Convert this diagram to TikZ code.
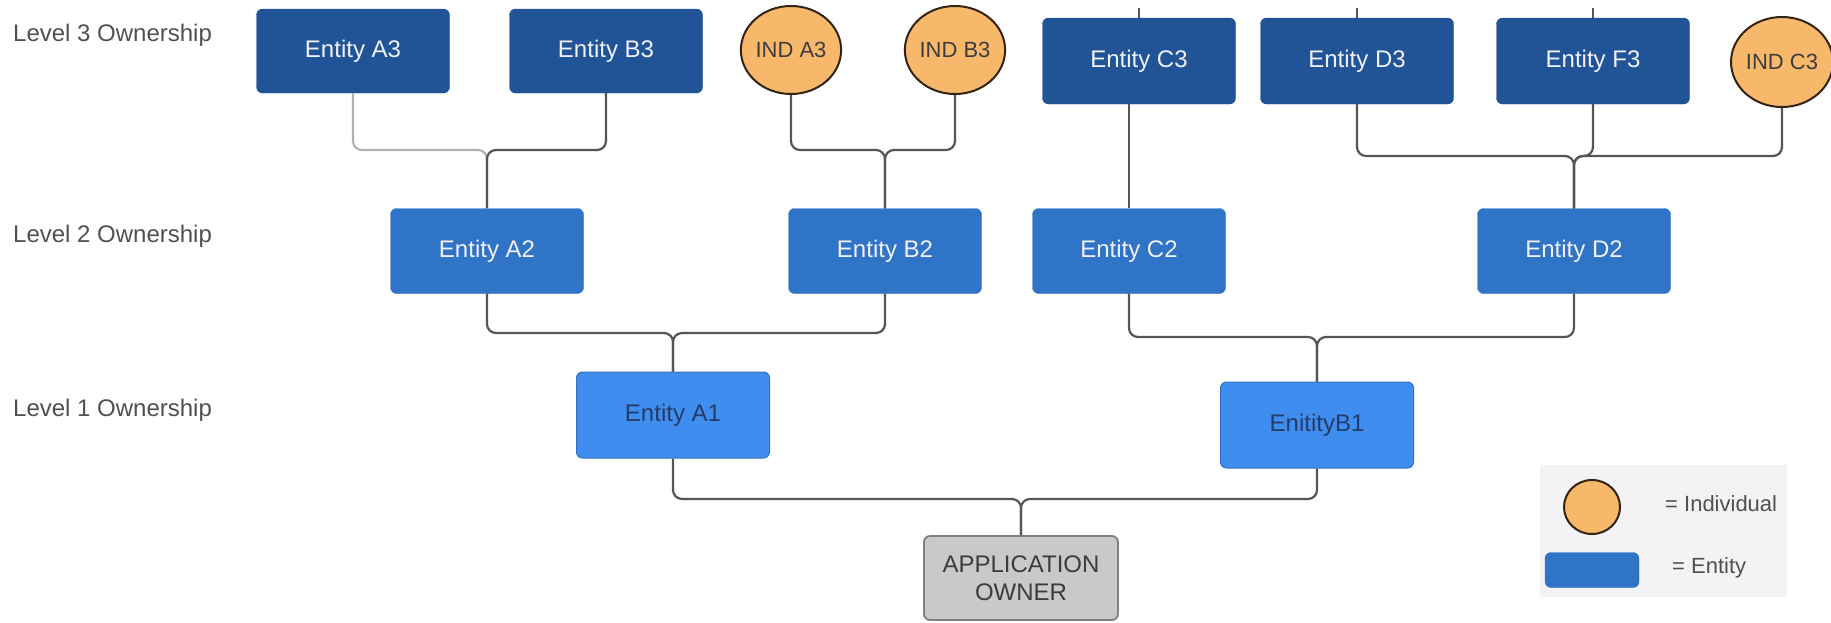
\documentclass[tikz,border=0pt]{standalone}
\usepackage{fontspec}
\setmainfont{Liberation Sans}
\usepackage{tikz}
\usetikzlibrary{shapes}
\usetikzlibrary{shapes.geometric}
\definecolor{lvlthree}{RGB}{33,84,150}
\definecolor{lvltwo}{RGB}{47,116,198}
\definecolor{lvlone}{RGB}{64,141,240}
\definecolor{indfill}{RGB}{248,184,108}
\definecolor{linkgray}{RGB}{85,85,85}
\tikzset{
  ownnode/.style = {align=center, inner sep=0pt, text centered,
    font=\fontsize{24}{28}\selectfont},
  entity_three/.style = {ownnode, rectangle, rounded corners=6pt, fill=lvlthree,
    draw=lvlthree, text=white!94!blue, minimum width=193pt, minimum height=84pt},% niveau 3
  entity_two/.style = {ownnode, rectangle, rounded corners=6pt, fill=lvltwo,
    draw=lvltwo, text=white!94!blue, minimum width=193pt, minimum height=85pt},% niveau 2
  entity_one/.style = {ownnode, rectangle, rounded corners=6pt, fill=lvlone,
    draw=lvlone!80!black, line width=1pt, text={rgb,255:red,35;green,60;blue,105},
    minimum width=193pt, minimum height=86pt},% niveau 1
  ind_node/.style = {ownnode, ellipse, fill=indfill, draw={rgb,255:red,50;green,35;blue,20},
    line width=2pt, text={rgb,255:red,60;green,60;blue,60}, font=\fontsize{22}{26}\selectfont,
    minimum width=98pt, minimum height=88pt},% individu
  owner_node/.style = {ownnode, rectangle, rounded corners=6pt, fill={rgb,255:red,201;green,201;blue,201},
    draw={rgb,255:red,128;green,128;blue,128}, line width=1.8pt,
    text={rgb,255:red,60;green,60;blue,60}, minimum width=194pt, minimum height=84pt},% proprietaire
  level_label/.style = {ownnode, anchor=west, text={rgb,255:red,80;green,80;blue,80}},
  link/.style = {draw=linkgray, line width=2.2pt, rounded corners=9pt},
  link_light/.style = {link, draw=linkgray!45}
}
\begin{document}
\begin{tikzpicture}[x=1pt, y=-1pt]
  \useasboundingbox (0,0) rectangle (1831,622);
  % niveaux
  \node [level_label] (lbl3) at (13,35) {Level 3 Ownership};
  \node [level_label] (lbl2) at (13,236) {Level 2 Ownership};
  \node [level_label] (lbl1) at (13,410) {Level 1 Ownership};
  % niveau 3
  \node [entity_three] (a3) at (353,51) {Entity A3};
  \node [entity_three] (b3) at (606,51) {Entity B3};
  \node [ind_node] (inda3) at (791,50) {IND A3};
  \node [ind_node] (indb3) at (955,50) {IND B3};
  \node [entity_three, minimum height=86pt] (c3) at (1139,61) {Entity C3};
  \node [entity_three, minimum height=86pt] (d3) at (1357,61) {Entity D3};
  \node [entity_three, minimum height=86pt] (f3) at (1593,61) {Entity F3};
  \node [ind_node, minimum width=95pt, minimum height=90pt] (indc3) at (1782,62) {IND C3};
  % niveau 2
  \node [entity_two] (a2) at (487,251) {Entity A2};
  \node [entity_two] (b2) at (885,251) {Entity B2};
  \node [entity_two] (c2) at (1129,251) {Entity C2};
  \node [entity_two] (d2) at (1574,251) {Entity D2};
  % niveau 1
  \node [entity_one] (a1) at (673,415) {Entity A1};
  \node [entity_one] (b1) at (1317,425) {EnitityB1};
  \node [owner_node] (owner) at (1021,578) {APPLICATION\\OWNER};
  % jonctions
  \coordinate (top_edge) at (0,8);
  \coordinate (j_ab3) at (0,150);
  \coordinate (j_df3) at (0,156);
  \coordinate (j_ab2) at (0,333);
  \coordinate (j_cd2) at (0,337);
  \coordinate (j_ab1) at (0,499);
  \draw [link] (c3.north) -- (c3.north |- top_edge);
  \draw [link] (d3.north) -- (d3.north |- top_edge);
  \draw [link] (f3.north) -- (f3.north |- top_edge);
  \draw [link_light] (a3.south) -- (a3.south |- j_ab3) -| (a2.north);
  \draw [link] (b3.south) -- (b3.south |- j_ab3) -| (a2.north);
  \draw [link] (inda3.south) -- (inda3.south |- j_ab3) -| (b2.north);
  \draw [link] (indb3.south) -- (indb3.south |- j_ab3) -| (b2.north);
  \draw [link] (c2.north) -- (c2.north |- c3.south);
  \draw [link] (d3.south) -- (d3.south |- j_df3) -| (d2.north);
  \draw [link] (f3.south) -- (f3.south |- j_df3) -| (d2.north);
  \draw [link] (indc3.south) -- (indc3.south |- j_df3) -| (d2.north);
  \draw [link] (a2.south) -- (a2.south |- j_ab2) -| (a1.north);
  \draw [link] (b2.south) -- (b2.south |- j_ab2) -| (a1.north);
  \draw [link] (c2.south) -- (c2.south |- j_cd2) -| (b1.north);
  \draw [link] (d2.south) -- (d2.south |- j_cd2) -| (b1.north);
  \draw [link] (a1.south) -- (a1.south |- j_ab1) -| (owner.north);
  \draw [link] (b1.south) -- (b1.south |- j_ab1) -| (owner.north);
  % legende
  \node [fill={rgb,255:red,243;green,243;blue,245}, minimum width=247pt, minimum height=132pt,
    inner sep=0pt] (legend) at (1663,531) {};
  \node [ind_node, minimum width=56pt, minimum height=54pt] (leg_ind) at (1592,507) {};
  \node [entity_two, minimum width=94pt, minimum height=35pt] (leg_ent) at (1592,570) {};
  \node [level_label, font=\fontsize{22}{26}\selectfont] (leg_ind_txt) at (1665,504) {= Individual};
  \node [level_label, font=\fontsize{22}{26}\selectfont] (leg_ent_txt) at (1672,568) {= Entity};
\end{tikzpicture}
\end{document}
